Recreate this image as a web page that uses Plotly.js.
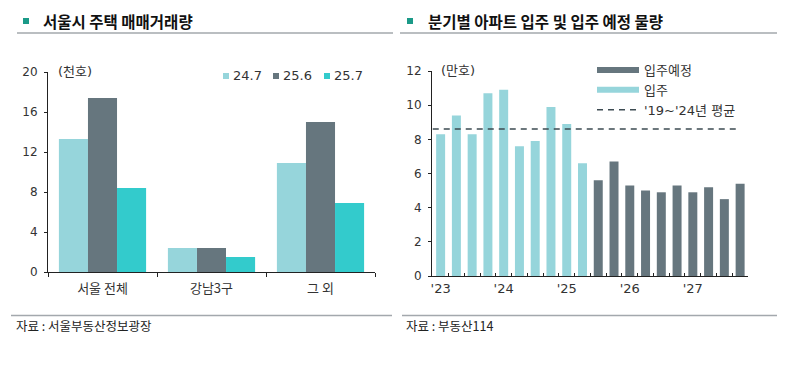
<!DOCTYPE html>
<html><head><meta charset="utf-8">
<script src="https://cdn.plot.ly/plotly-3.0.1.min.js"></script>
<style>html,body{margin:0;padding:0;background:#fff}#chart{width:807px;height:366px}</style>
</head><body><div id="chart"></div>
<script>
// ---------- data: left chart ----------
const regions = ['서울 전체', '강남3구', '그 외'];
const periods = ['24.7', '25.6', '25.7'];
const trade247 = [13.3, 2.4, 10.9];
const trade256 = [17.4, 2.4, 15.0];
const trade257 = [8.4, 1.5, 6.9];
const leftUnit = '(천호)';

// ---------- data: right chart ----------
const quarters = ['23.1Q','23.2Q','23.3Q','23.4Q','24.1Q','24.2Q','24.3Q','24.4Q',
                  '25.1Q','25.2Q','25.3Q','25.4Q','26.1Q','26.2Q','26.3Q','26.4Q',
                  '27.1Q','27.2Q','27.3Q','27.4Q'];
const moveInQuarters = quarters.slice(0, 10);
const moveIn = [8.3, 9.4, 8.3, 10.7, 10.9, 7.6, 7.9, 9.9, 8.9, 6.6];
const plannedQuarters = quarters.slice(10);
const planned = [5.6, 6.7, 5.3, 5.0, 4.9, 5.3, 4.9, 5.2, 4.5, 5.4];
const avg1924 = 8.6;
const yearLabels = ["'23", "'24", "'25", "'26", "'27"];
const rightUnit = '(만호)';
const seriesNames = ['입주예정', '입주', "'19~'24년 평균"];

// ---------- texts ----------
const titleLeft = '서울시 주택 매매거래량';
const titleRight = '분기별 아파트 입주 및 입주 예정 물량';
const srcLeft = '자료 : 서울부동산정보광장';
const srcRight = '자료 : 부동산114';

// ---------- styles ----------
const W = 807, H = 366;
const px = x => x / W;
const py = y => 1 - y / H;
const FONT = 'DejaVu Sans, Noto Sans CJK KR, sans-serif';
const KFONT = 'Noto Sans CJK KR, DejaVu Sans, sans-serif';
const cLight = '#96d5db', cDark = '#66767e', cCyan = '#33cbcc';
const leftColors = [cLight, cDark, cCyan];
const txt = '#333333';

const leftVals = [trade247, trade256, trade257];
const traces = [];
periods.forEach((p, i) => {
  traces.push({type: 'bar', name: p, x: regions, y: leftVals[i], xaxis: 'x', yaxis: 'y',
    marker: {color: leftColors[i]}, showlegend: false, hoverinfo: 'x+y+name'});
});
traces.push({type: 'bar', name: seriesNames[1], x: moveInQuarters, y: moveIn, xaxis: 'x2', yaxis: 'y2',
  offsetgroup: 'r', width: 0.57, marker: {color: cLight}, showlegend: false});
traces.push({type: 'bar', name: seriesNames[0], x: plannedQuarters, y: planned, xaxis: 'x2', yaxis: 'y2',
  offsetgroup: 'r', width: 0.57, marker: {color: cDark}, showlegend: false});
// legend entries
traces.push({type: 'scatter', mode: 'lines', name: seriesNames[0], x: [null], y: [null], xaxis: 'x2', yaxis: 'y2',
  line: {color: cDark, width: 6}, hoverinfo: 'skip'});
traces.push({type: 'scatter', mode: 'lines', name: seriesNames[1], x: [null], y: [null], xaxis: 'x2', yaxis: 'y2',
  line: {color: cLight, width: 6}, hoverinfo: 'skip'});
traces.push({type: 'scatter', mode: 'lines', name: seriesNames[2], x: [null], y: [null], xaxis: 'x2', yaxis: 'y2',
  line: {color: '#3d4b52', width: 1.5, dash: '6px,5px'}, hoverinfo: 'skip'});

const axisCommon = {showgrid: false, zeroline: false, showline: true, linecolor: '#222', linewidth: 1,
  tickfont: {family: FONT, size: 12, color: txt}, fixedrange: true};

const layout = {
  width: W, height: H,
  margin: {l: 0, r: 0, t: 0, b: 0, pad: 0},
  paper_bgcolor: '#fff', plot_bgcolor: '#fff',
  barmode: 'group', bargap: 0.2, bargroupgap: 0,
  font: {family: FONT, color: txt, size: 12},
  xaxis: Object.assign({}, axisCommon, {domain: [px(48), px(375)], anchor: 'y', type: 'category',
    tickson: 'boundaries', ticks: 'outside', ticklen: 4, tickcolor: '#222', tickangle: 0,
    ticklabelstandoff: 4,
    tickfont: {family: KFONT, size: 13, color: txt}}),
  yaxis: Object.assign({}, axisCommon, {domain: [py(272), py(72)], anchor: 'x', range: [0, 20], dtick: 4,
    ticks: 'outside', ticklen: 3, tickcolor: '#222', ticklabelstandoff: 4}),
  xaxis2: Object.assign({}, axisCommon, {domain: [px(432), px(748)], anchor: 'y2', type: 'category',
    categoryorder: 'array', categoryarray: quarters,
    tickmode: 'array', tickvals: quarters, tickangle: 0,
    ticktext: quarters.map((q, i) => i % 4 === 0 ? yearLabels[i / 4] : ''),
    tickson: 'boundaries', ticks: 'inside', ticklen: 3, tickcolor: '#222',
    tickfont: {family: FONT, size: 13, color: txt}}),
  yaxis2: Object.assign({}, axisCommon, {domain: [py(276), py(71)], anchor: 'x2', range: [0, 12], dtick: 2,
    ticks: 'outside', ticklen: 3, tickcolor: '#222', ticklabelstandoff: 4}),
  legend: {x: px(592), y: py(55), xanchor: 'left', yanchor: 'top', bgcolor: 'rgba(0,0,0,0)',
    font: {family: FONT, size: 13, color: txt}, itemwidth: 42, tracegroupgap: 0, traceorder: 'normal'},
  shapes: [
    // title bullets and rules
    {type: 'rect', xref: 'paper', yref: 'paper', x0: px(23), x1: px(29), y0: py(24), y1: py(18), fillcolor: '#1b9a88', line: {width: 0}},
    {type: 'rect', xref: 'paper', yref: 'paper', x0: px(407), x1: px(413), y0: py(24), y1: py(18), fillcolor: '#1b9a88', line: {width: 0}},
    {type: 'line', xref: 'paper', yref: 'paper', x0: px(17), x1: px(393), y0: py(33), y1: py(33), line: {color: '#a3a8ad', width: 1.5}},
    {type: 'line', xref: 'paper', yref: 'paper', x0: px(400), x1: px(777), y0: py(33), y1: py(33), line: {color: '#a3a8ad', width: 1.5}},
    {type: 'line', xref: 'paper', yref: 'paper', x0: px(11), x1: px(392), y0: py(315.5), y1: py(315.5), line: {color: '#a3a8ad', width: 1.5}},
    {type: 'line', xref: 'paper', yref: 'paper', x0: px(402), x1: px(777), y0: py(315.5), y1: py(315.5), line: {color: '#a3a8ad', width: 1.5}},
    // average line
    {type: 'line', xref: 'x2', yref: 'y2', x0: -0.5, x1: 18.8, y0: avg1924, y1: avg1924,
      line: {color: '#3d4b52', width: 1.5, dash: '6px,5px'}}
  ],
  annotations: [
    {xref: 'paper', yref: 'paper', x: px(41), y: py(21), xanchor: 'left', yanchor: 'middle', showarrow: false,
      text: '<b>' + titleLeft + '</b>', font: {family: KFONT, size: 15.5, color: '#111'}},
    {xref: 'paper', yref: 'paper', x: px(426), y: py(21), xanchor: 'left', yanchor: 'middle', showarrow: false,
      text: '<b>' + titleRight + '</b>', font: {family: KFONT, size: 15.5, color: '#111'}},
    {xref: 'paper', yref: 'paper', x: px(56), y: py(71), xanchor: 'left', yanchor: 'middle', showarrow: false,
      text: leftUnit, font: {family: FONT, size: 13, color: txt}},
    {xref: 'paper', yref: 'paper', x: px(439), y: py(70), xanchor: 'left', yanchor: 'middle', showarrow: false,
      text: rightUnit, font: {family: FONT, size: 13, color: txt}},
    {xref: 'paper', yref: 'paper', x: px(14), y: py(325), xanchor: 'left', yanchor: 'middle', showarrow: false,
      text: srcLeft, font: {family: KFONT, size: 12.5, color: '#222'}},
    {xref: 'paper', yref: 'paper', x: px(404), y: py(325), xanchor: 'left', yanchor: 'middle', showarrow: false,
      text: srcRight, font: {family: KFONT, size: 12.5, color: '#222'}}
  ]
};

// left legend (swatch + label)
const legX = [223, 273, 324];
periods.forEach((p, i) => {
  layout.shapes.push({type: 'rect', xref: 'paper', yref: 'paper', x0: px(legX[i]), x1: px(legX[i] + 6),
    y0: py(79), y1: py(73), fillcolor: leftColors[i], line: {width: 0}});
  layout.annotations.push({xref: 'paper', yref: 'paper', x: px(legX[i] + 8), y: py(75), xanchor: 'left', yanchor: 'middle',
    showarrow: false, text: p, font: {family: FONT, size: 13, color: txt}});
});

Plotly.newPlot('chart', traces, layout, {displayModeBar: false, staticPlot: true});
</script>
</body></html>
